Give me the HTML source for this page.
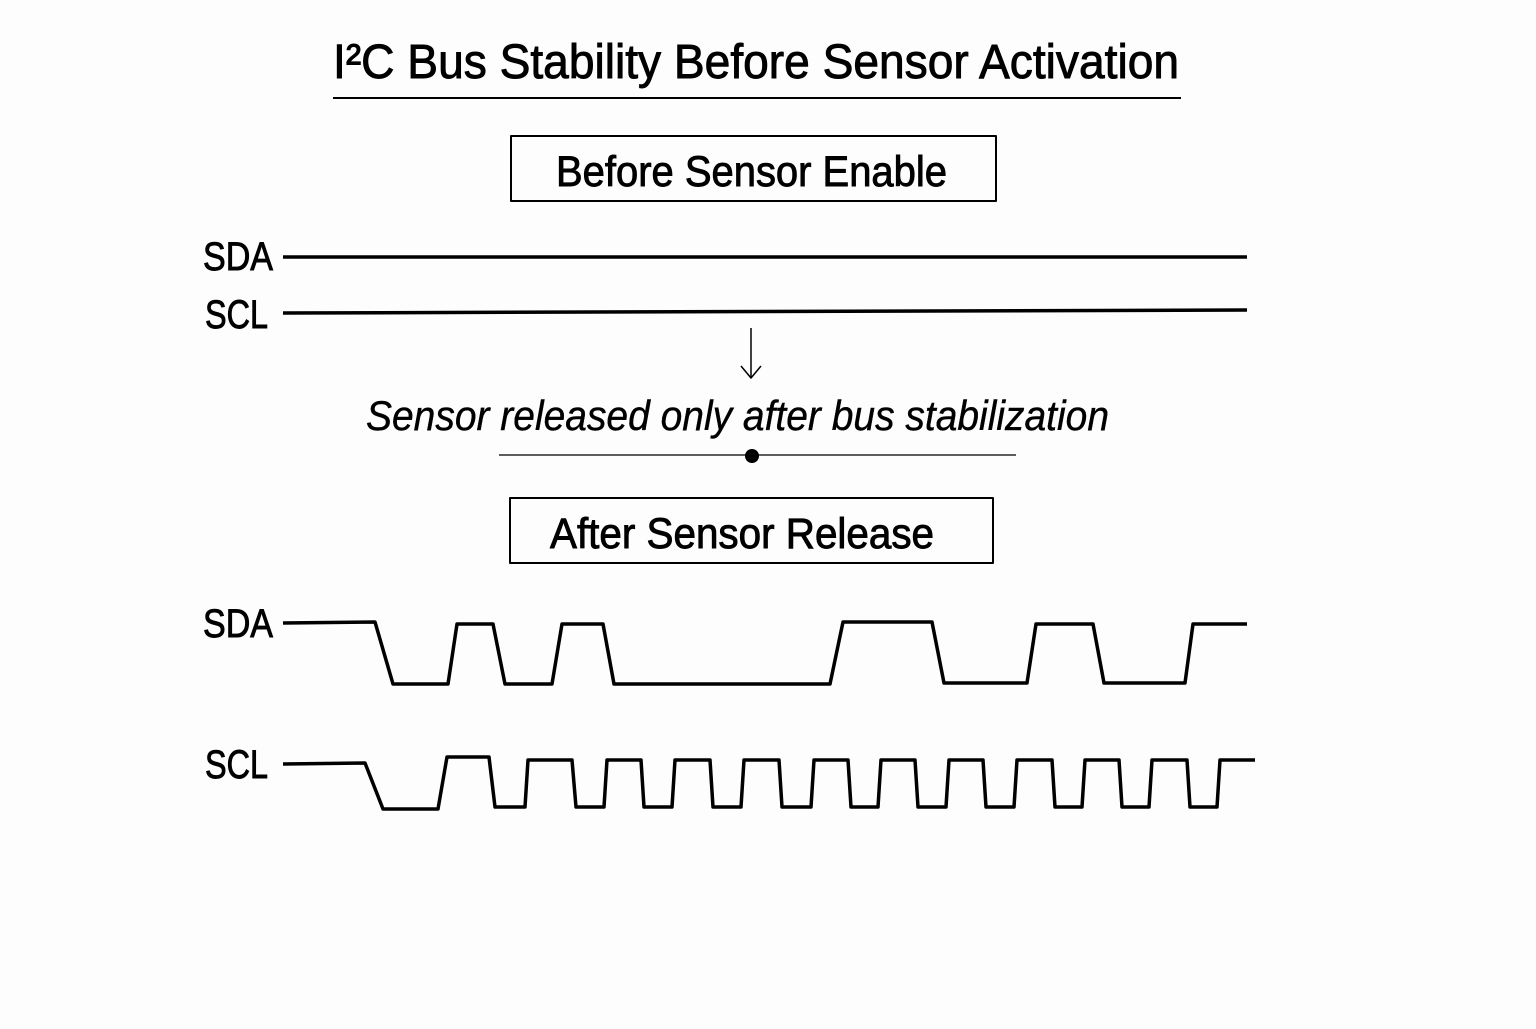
<!DOCTYPE html>
<html><head><meta charset="utf-8"><style>html,body{margin:0;padding:0;background:#fdfdfd}</style></head>
<body>
<svg width="1536" height="1024" viewBox="0 0 1536 1024" xmlns="http://www.w3.org/2000/svg">
<rect width="1536" height="1024" fill="#fdfdfd"/>
<g font-family="Liberation Sans, DejaVu Sans, sans-serif" fill="#000" stroke="#000" stroke-width="0.9">
<text x="333" y="78" font-size="48" textLength="846" lengthAdjust="spacingAndGlyphs">I²C Bus Stability Before Sensor Activation</text>
<text x="556" y="186" font-size="43" textLength="391" lengthAdjust="spacingAndGlyphs">Before Sensor Enable</text>
<text x="203" y="270" font-size="40" textLength="70" lengthAdjust="spacingAndGlyphs">SDA</text>
<text x="205" y="328" font-size="40" textLength="63" lengthAdjust="spacingAndGlyphs">SCL</text>
<text x="366" y="430" font-size="42" font-style="italic" stroke-width="0.4" textLength="743" lengthAdjust="spacingAndGlyphs">Sensor released only after bus stabilization</text>
<text x="550" y="548" font-size="43" textLength="384" lengthAdjust="spacingAndGlyphs">After Sensor Release</text>
<text x="203" y="637" font-size="40" textLength="70" lengthAdjust="spacingAndGlyphs">SDA</text>
<text x="205" y="778" font-size="40" textLength="63" lengthAdjust="spacingAndGlyphs">SCL</text>
</g>
<g stroke="#000" fill="none" stroke-linejoin="round">
<line x1="333" y1="98" x2="1181" y2="98" stroke-width="2"/>
<rect x="511" y="136" width="485" height="65" stroke-width="2"/>
<rect x="510" y="498" width="483" height="65" stroke-width="2"/>
<line x1="283" y1="257" x2="1247" y2="257" stroke-width="3.5"/>
<line x1="283" y1="313" x2="1247" y2="310" stroke-width="3.5"/>
<line x1="751" y1="328" x2="751" y2="378" stroke-width="1.5"/>
<polyline points="741,366 751,378 761,366" stroke-width="1.5"/>
<line x1="499" y1="455" x2="1016" y2="455" stroke-width="1.2"/>
<polyline stroke-width="3.5" points="283,623 375,622 393,684 448,684 457,624 493,624 505,684 552,684 562,624 603,624 614,684 830,684 843,622 932,622 944,683 1027,683 1036,624 1093,624 1104,683 1185,683 1193,624 1247,624"/>
<polyline stroke-width="3.5" points="283,764 365,763 383,809 438,809 447,757 489,757 495,807 525,807 528,760 572,760 576,807 604,807 607,760 641,760 644,807 672,807 675,760 710,760 713,807 741,807 744,760 779,760 782,807 811,807 814,760 848,760 851,807 878,807 881,760 915,760 918,807 946,807 949,760 983,760 986,807 1014,807 1017,760 1052,760 1055,807 1082,807 1085,760 1119,760 1122,807 1149,807 1152,760 1187,760 1190,807 1217,807 1220,760 1255,760"/>
</g>
<circle cx="752" cy="456" r="7" fill="#000"/>
</svg>
</body></html>
